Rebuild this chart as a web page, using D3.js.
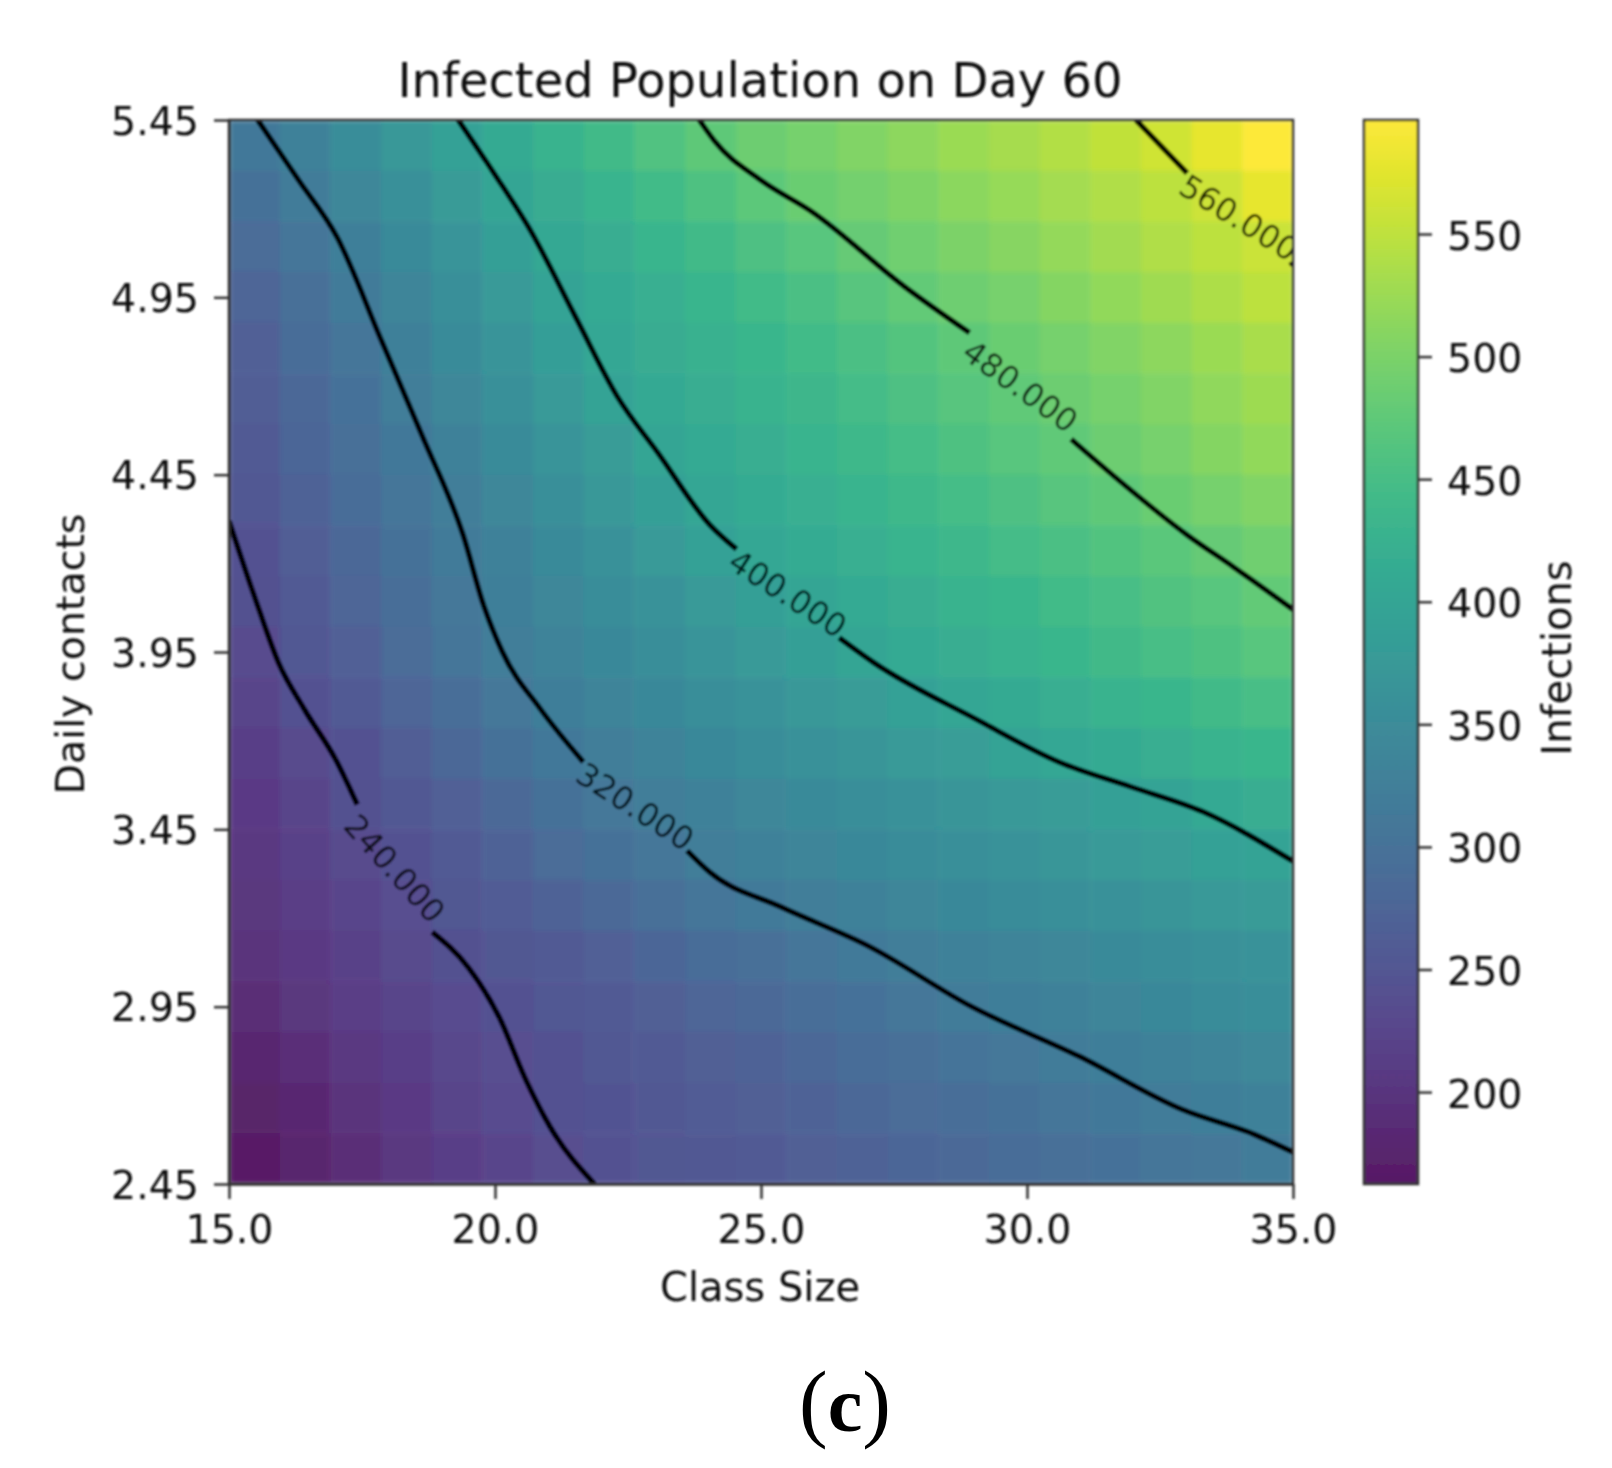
<!DOCTYPE html>
<html>
<head>
<meta charset="utf-8">
<title>Infected Population on Day 60</title>
<script src="https://cdn.jsdelivr.net/npm/d3@7/dist/d3.min.js"></script>
<style>
body { margin: 0; background: #fff; }
text { font-family: "DejaVu Sans"; fill: #111; }
</style>
</head>
<body>
<script>
var xTicks = [15, 20, 25, 30, 35];
var yTicks = [2.45, 2.95, 3.45, 3.95, 4.45, 4.95, 5.45];
var barTicks = [200, 250, 300, 350, 400, 450, 500, 550];
var barRange = [162.5, 596.5];

// infections per cell, top row (5.45) first, class size left to right
var infections = [
  [312,332,352,373,393,411,427,443,460,476,487,496,506,515,524,533,542,552,561,578,595],
  [298,318,339,359,380,400,415,429,444,459,473,485,494,503,512,521,531,540,549,560,578],
  [286,306,326,347,367,388,405,418,431,443,456,469,481,491,500,510,520,529,539,548,558],
  [275,296,316,336,357,377,398,410,421,433,444,455,467,478,488,498,508,518,528,538,548],
  [269,289,308,328,348,367,387,404,414,424,434,444,455,465,475,485,495,505,515,525,535],
  [263,282,301,320,339,358,377,396,408,418,427,437,447,457,467,477,487,496,506,516,526],
  [258,277,295,313,330,348,366,383,401,410,420,429,439,448,458,468,477,487,497,507,517],
  [252,270,287,305,322,339,356,373,389,403,412,421,430,439,448,457,466,475,485,495,505],
  [246,264,281,299,316,332,347,362,377,392,404,413,421,430,438,447,455,464,472,481,491],
  [240,258,275,293,311,326,339,352,364,377,389,401,410,418,427,435,444,452,461,469,478],
  [233,251,268,286,304,321,333,344,355,367,378,389,401,409,417,426,434,442,451,459,468],
  [224,241,259,276,293,310,325,334,344,354,364,374,384,393,403,411,419,427,435,443,451],
  [215,231,247,264,281,297,312,323,333,343,352,360,369,378,386,395,404,411,419,427,435],
  [210,225,239,254,269,283,297,310,322,332,340,347,354,361,369,376,383,391,398,407,417],
  [205,219,232,246,259,272,285,297,309,320,329,337,344,350,357,364,371,378,385,392,398],
  [200,212,226,238,250,261,272,283,294,305,315,323,331,338,344,350,356,362,368,375,381],
  [195,207,220,231,240,249,259,268,277,287,296,305,314,322,329,335,340,346,352,358,364],
  [187,200,213,225,234,242,251,259,267,276,284,292,301,309,318,325,331,337,343,349,355],
  [177,190,204,216,228,238,246,253,260,267,274,281,289,296,303,310,318,324,330,335,341],
  [170,182,196,209,222,234,242,248,254,261,267,274,280,286,293,299,305,312,318,324,329],
  [164,176,189,202,214,226,237,244,249,255,260,266,272,277,283,288,294,300,305,311,317]
];

// contour lines as [class size, contacts], broken where the label sits
var levels = ["240.000", "320.000", "400.000", "480.000", "560.000"];
var contourBefore = [
  [[15,4.32],[15.54,4.08],[15.93,3.92],[16.41,3.79],[17.03,3.64],[17.41,3.52]],
  [[15.54,5.45],[16.31,5.28],[17.03,5.12],[17.86,4.83],[18.63,4.56],[19.4,4.28],[19.79,4.08],[20.14,3.95],[20.85,3.79],[21.66,3.64]],
  [[19.31,5.45],[19.98,5.3],[20.66,5.14],[21.53,4.89],[22.3,4.67],[23.07,4.51],[24.03,4.31],[24.54,4.24]],
  [[23.84,5.45],[24.13,5.39],[25,5.28],[25.97,5.19],[27.7,4.98],[28.92,4.85]],
  [[32.05,5.45],[33.01,5.3]]
];
var contourAfter = [
  [[18.82,3.16],[19.5,3.06],[20.08,2.92],[20.56,2.75],[21.04,2.61],[21.87,2.45]],
  [[23.61,3.39],[24.03,3.33],[25.39,3.23],[27.03,3.12],[28.96,2.95],[30.98,2.81],[32.92,2.66],[34.27,2.59],[35,2.54]],
  [[26.47,3.99],[27.12,3.92],[29.05,3.76],[30.6,3.64],[31.95,3.57],[33.3,3.5],[35,3.36]],
  [[30.83,4.55],[31.76,4.43],[33.01,4.28],[33.88,4.19],[35,4.07]],
  [[34.96,5.05],[35,5.04]]
];
var labelAngles = [48, 33, 33, 36, 32];

var left = 229, right = 1293, top_ = 120, bottom = 1184;
var barLeft = 1364, barRight = 1418;

var x = d3.scaleLinear().domain([15, 35]).range([left, right]);
var y = d3.scaleLinear().domain([2.45, 5.45]).range([bottom, top_]);
var bar = d3.scaleLinear().domain(barRange).range([bottom, top_]);
var color = d3.scaleSequential(d3.interpolateViridis).domain(barRange);
var col = d3.scaleBand().domain(d3.range(infections[0].length)).range([left, right]);
var row = d3.scaleBand().domain(d3.range(infections.length)).range([top_, bottom]);

var svg = d3.select("body").append("svg")
    .attr("width", 1612)
    .attr("height", 1468)
    .style("display", "block");

var defs = svg.append("defs");
function addBlur(id, amount) {
    defs.append("filter")
        .attr("id", id)
        .attr("filterUnits", "userSpaceOnUse")
        .attr("x", 0).attr("y", 0).attr("width", 1612).attr("height", 1468)
      .append("feGaussianBlur")
        .attr("stdDeviation", amount);
}
addBlur("soft", 1);
addBlur("softCells", 2.2);
defs.append("clipPath")
    .attr("id", "plot")
  .append("rect")
    .attr("x", left).attr("y", top_)
    .attr("width", right - left).attr("height", bottom - top_);

var grad = defs.append("linearGradient")
    .attr("id", "viridisBar")
    .attr("x1", 0).attr("y1", 1).attr("x2", 0).attr("y2", 0);
d3.range(0, 1.001, 0.05).forEach(function(t) {
    grad.append("stop")
        .attr("offset", t)
        .attr("stop-color", d3.interpolateViridis(t));
});

var chart = svg.append("g").attr("filter", "url(#soft)");

// heat map cells
var cells = chart.append("g")
    .attr("clip-path", "url(#plot)")
  .append("g")
    .attr("filter", "url(#softCells)")
    .attr("opacity", 0.9);
infections.forEach(function(values, r) {
    cells.selectAll(null)
        .data(values)
        .enter()
        .append("rect")
            .attr("x", function(d, c) { return col(c); })
            .attr("y", row(r))
            .attr("width", col.bandwidth() + 0.5)
            .attr("height", row.bandwidth() + 0.5)
            .attr("fill", function(d) { return color(d); });
});

// contours and their inline labels
var line = d3.line()
    .curve(d3.curveMonotoneX)
    .x(function(d) { return x(d[0]); })
    .y(function(d) { return y(d[1]); });
var contours = chart.append("g").attr("clip-path", "url(#plot)");
levels.forEach(function(level, i) {
    [contourBefore[i], contourAfter[i]].forEach(function(points) {
        contours.append("path")
            .attr("d", line(points))
            .attr("fill", "none")
            .attr("stroke", "#000")
            .attr("stroke-width", 5.5)
            .attr("stroke-linejoin", "round");
    });
    var a = contourBefore[i][contourBefore[i].length - 1], b = contourAfter[i][0];
    var cx = (x(a[0]) + x(b[0])) / 2, cy = (y(a[1]) + y(b[1])) / 2;
    contours.append("text")
        .attr("transform", "translate(" + cx + "," + cy + ") rotate(" + labelAngles[i] + ")")
        .attr("text-anchor", "middle")
        .attr("dy", "0.36em")
        .style("font-size", "32px")
        .style("fill", "#000")
        .style("opacity", 0.85)
        .text(level);
});

// axes
function styleAxis(g) {
    g.selectAll("path, line").attr("stroke", "#333").attr("stroke-width", 2.5);
    g.selectAll("text").style("font-size", "39.5px").style("font-family", "DejaVu Sans");
}
chart.append("g")
    .attr("transform", "translate(0," + bottom + ")")
    .call(d3.axisBottom(x).tickValues(xTicks).tickSize(15).tickPadding(16).tickSizeOuter(0)
        .tickFormat(d3.format(".1f")))
    .call(styleAxis);
chart.append("g")
    .attr("transform", "translate(" + left + ",0)")
    .call(d3.axisLeft(y).tickValues(yTicks).tickSize(15).tickPadding(15).tickSizeOuter(0)
        .tickFormat(d3.format(".2f")))
    .call(styleAxis)
    .selectAll("text").attr("dy", "0.36em");
chart.append("rect")
    .attr("x", left).attr("y", top_)
    .attr("width", right - left).attr("height", bottom - top_)
    .attr("fill", "none").attr("stroke", "#333").attr("stroke-width", 2.5);

// colour bar
chart.append("rect")
    .attr("x", barLeft).attr("y", top_)
    .attr("width", barRight - barLeft).attr("height", bottom - top_)
    .attr("fill", "url(#viridisBar)")
    .attr("opacity", 0.9);
chart.append("rect")
    .attr("x", barLeft).attr("y", top_)
    .attr("width", barRight - barLeft).attr("height", bottom - top_)
    .attr("fill", "none").attr("stroke", "#333").attr("stroke-width", 2.5);
chart.append("g")
    .attr("transform", "translate(" + barRight + ",0)")
    .call(d3.axisRight(bar).tickValues(barTicks).tickSize(14).tickPadding(15).tickSizeOuter(0))
    .call(styleAxis)
    .call(function(g) { g.select(".domain").remove(); })
    .selectAll("text").attr("dy", "0.38em");

// titles
chart.append("text")
    .attr("x", 760).attr("y", 97)
    .attr("text-anchor", "middle")
    .style("font-size", "48px")
    .text("Infected Population on Day 60");
chart.append("text")
    .attr("x", 760).attr("y", 1301)
    .attr("text-anchor", "middle")
    .style("font-size", "40px")
    .text("Class Size");
chart.append("text")
    .attr("transform", "translate(84,654) rotate(-90)")
    .attr("text-anchor", "middle")
    .style("font-size", "39.5px")
    .text("Daily contacts");
chart.append("text")
    .attr("transform", "translate(1571,658) rotate(-90)")
    .attr("text-anchor", "middle")
    .style("font-size", "40px")
    .text("Infections");

var caption = svg.append("text")
    .attr("x", 845).attr("y", 1431)
    .attr("text-anchor", "middle")
    .style("font-family", "Liberation Serif")
    .style("fill", "#000");
caption.append("tspan").style("font-size", "86px").text("(");
caption.append("tspan").style("font-size", "78px").style("font-weight", "bold").text("c");
caption.append("tspan").style("font-size", "86px").text(")");
</script>
</body>
</html>
